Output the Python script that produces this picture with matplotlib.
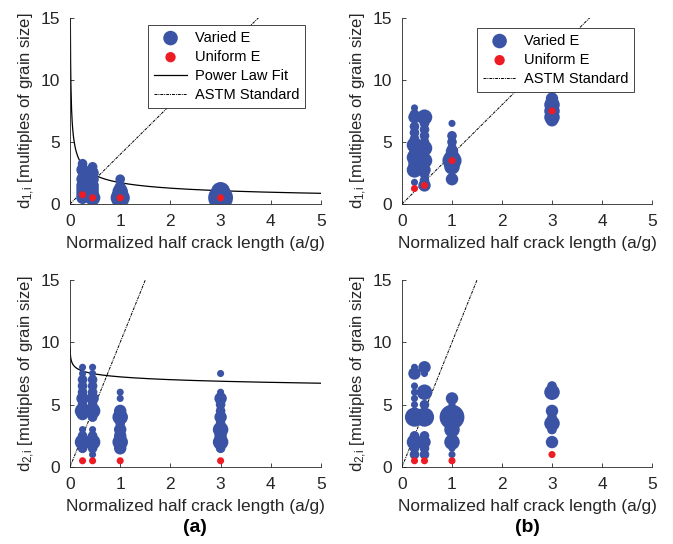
import numpy as np
import matplotlib
matplotlib.use("Agg")
import matplotlib.pyplot as plt

plt.rcParams['font.family'] = ['Liberation Sans', 'DejaVu Sans']
plt.rcParams['mathtext.fontset'] = 'custom'
plt.rcParams['mathtext.rm'] = 'Liberation Sans'
plt.rcParams['mathtext.it'] = 'Liberation Sans'

blue = '#3a53a4'
red = '#ed1c24'

# column positions (a/g)
cols = [0.25, 0.45, 1.0, 3.0]

# d1, varied E (top-left): (y values, size class) per column
d1a_y = [[0.5, 0.75, 1.0, 1.25, 1.5, 2.0, 2.25, 2.75, 3.0, 3.25],
         [0.5, 0.75, 1.0, 1.25, 1.5, 2.0, 2.5, 2.75, 3.0],
         [0.5, 0.75, 1.0, 1.25, 1.5, 2.0],
         [0.5, 0.75, 1.0]]
d1a_s = [[3, 3, 3, 3, 3, 3, 2, 3, 2, 2],
         [4, 3, 3, 3, 3, 3, 3, 2, 2],
         [5, 4, 4, 3, 2, 2],
         [6, 5, 5]]
d1a_red = [0.75, 0.5, 0.5, 0.5]

# d1, varied E (top-right)
d1b_y = [[1.75, 2.75, 3.25, 3.75, 4.0, 4.75, 5.25, 5.75, 6.25, 7.0, 7.25, 7.75],
         [1.5, 1.9, 2.4, 2.75, 3.5, 3.9, 4.5, 5.0, 5.5, 6.0, 6.5, 7.0],
         [2.0, 3.0, 3.5, 3.75, 4.0, 4.25, 4.5, 5.0, 5.5, 6.5],
         [6.75, 7.0, 7.5, 7.75, 8.0, 8.25, 8.5]]
d1b_s = [[1, 4, 3, 4, 3, 4, 2, 2, 2, 3, 2, 1],
         [3, 2, 2, 3, 4, 2, 4, 2, 2, 2, 2, 4],
         [3, 4, 5, 4, 3, 3, 2, 2, 2, 1],
         [3, 4, 4, 3, 4, 3, 3]]
d1b_red = [1.25, 1.5, 3.5, 7.5]

# d2, varied E (bottom-left)
d2a_y = [[1.5, 2.0, 2.5, 3.0, 4.25, 4.5, 5.0, 5.5, 6.0, 6.5, 7.0, 7.5, 8.0],
         [1.0, 1.5, 2.0, 2.5, 3.0, 4.0, 4.5, 5.0, 5.5, 6.0, 6.5, 7.0, 7.5, 8.0],
         [1.5, 2.0, 2.5, 3.0, 3.5, 4.0, 4.5, 5.5, 6.0],
         [1.5, 2.0, 2.5, 3.0, 3.5, 4.0, 4.5, 5.0, 5.5, 6.0, 7.5]]
d2a_s = [[2, 4, 2, 1, 3, 4, 2, 3, 2, 2, 2, 1, 1],
         [1, 2, 4, 2, 1, 2, 4, 2, 3, 2, 2, 2, 1, 1],
         [3, 4, 3, 3, 2, 4, 3, 1, 1],
         [2, 4, 3, 4, 2, 3, 2, 2, 3, 1, 1]]
d2a_red = [0.5, 0.5, 0.5, 0.5]

# d2, varied E (bottom-right)
d2b_y = [[1.0, 1.5, 2.0, 2.5, 4.0, 4.5, 5.0, 5.5, 6.0, 6.5, 7.5, 8.0],
         [1.0, 1.5, 2.0, 2.5, 4.0, 5.0, 6.0, 7.5, 8.0],
         [1.0, 1.5, 2.0, 3.0, 4.0, 5.0, 5.5],
         [2.0, 3.0, 3.5, 4.0, 4.5, 6.0, 6.5]]
d2b_s = [[2, 2, 4, 2, 5, 1, 1, 1, 1, 1, 3, 1],
         [2, 2, 3, 2, 5, 2, 4, 1, 3],
         [1, 1, 4, 4, 6, 1, 3],
         [3, 2, 4, 2, 3, 4, 2]]
d2b_red = [0.5, 0.5, 0.5, 1.0]

# power law fits
fit1_c, fit1_p = 1.72, -0.43
fit2_c, fit2_p = 7.23, -0.0454
astm_slope_d1 = 4.0
astm_slope_d2 = 10.0

size_map = {1: 26, 2: 48, 3: 80, 4: 125, 5: 190, 6: 320}

fig = plt.figure(figsize=(6.73, 5.44), dpi=100)
W, H = 673.0, 544.0


def make_ax(x0, y0, x1, y1):
    return fig.add_axes([x0 / W, 1 - y1 / H, (x1 - x0) / W, (y1 - y0) / H])


def style(ax, ylab):
    ax.set_xlim(0, 5)
    ax.set_ylim(0, 15)
    ax.set_xticks([0, 1, 2, 3, 4, 5])
    ax.set_yticks([0, 5, 10, 15])
    for s in ['top', 'right']:
        ax.spines[s].set_visible(False)
    for s in ['left', 'bottom']:
        ax.spines[s].set_color('#262626')
        ax.spines[s].set_linewidth(0.6)
    ax.tick_params(direction='in', length=3, width=0.6, labelsize=12.5,
                   colors='#262626', pad=7)
    ax.set_xlabel('Normalized half crack length (a/g)', fontsize=12.4,
                  labelpad=5, color='#262626')
    ax.set_ylabel(ylab, fontsize=12, labelpad=3, color='#262626')


def draw(ax, ys, ss, reds):
    for i, x in enumerate(cols):
        sz = [size_map[k] for k in ss[i]]
        ax.scatter([x] * len(ys[i]), ys[i], s=sz, c=blue, edgecolors='none',
                   zorder=3, label='Varied E' if i == 0 else None)
    ax.scatter(cols, reds, s=26, c=red, edgecolors='none', zorder=4,
               label='Uniform E')


ax1 = make_ax(70, 18, 321, 204)
ax2 = make_ax(402, 18, 652, 204)
ax3 = make_ax(70, 280, 321, 467)
ax4 = make_ax(402, 280, 652, 467)

xf = np.linspace(0.0062, 5, 800)
xf2 = np.linspace(0.002, 5, 800)
xa = np.array([0, 5])
dd = (3, 1, 1, 1)

draw(ax1, d1a_y, d1a_s, d1a_red)
ax1.plot(xf, fit1_c * xf ** fit1_p, color='k', lw=0.9, label='Power Law Fit')
ax1.plot(xa, astm_slope_d1 * xa, color='k', lw=0.7, dashes=dd,
         label='ASTM Standard')

draw(ax2, d1b_y, d1b_s, d1b_red)
ax2.plot(xa, astm_slope_d1 * xa, color='k', lw=0.7, dashes=dd,
         label='ASTM Standard')

draw(ax3, d2a_y, d2a_s, d2a_red)
ax3.plot(xf2, fit2_c * xf2 ** fit2_p, color='k', lw=0.9)
ax3.plot(xa, astm_slope_d2 * xa, color='k', lw=0.7, dashes=dd)

draw(ax4, d2b_y, d2b_s, d2b_red)
ax4.plot(xa, astm_slope_d2 * xa, color='k', lw=0.7, dashes=dd)

style(ax1, r'd$_{\mathregular{1{,}i}}$ [multiples of grain size]')
style(ax2, r'd$_{\mathregular{1{,}i}}$ [multiples of grain size]')
style(ax3, r'd$_{\mathregular{2{,}i}}$ [multiples of grain size]')
style(ax4, r'd$_{\mathregular{2{,}i}}$ [multiples of grain size]')

for ax, anchor in [(ax1, (0.936, 0.962)), (ax2, (0.928, 0.946))]:
    leg = ax.legend(loc='upper right', bbox_to_anchor=anchor, fontsize=10.5,
                    frameon=True, fancybox=False, borderpad=0.4,
                    labelspacing=0.35, handlelength=2.3, handletextpad=0.5,
                    borderaxespad=0, framealpha=1)
    leg.get_frame().set_edgecolor('#262626')
    leg.get_frame().set_linewidth(0.6)
    leg.legend_handles[0].set_sizes([110])
    leg.legend_handles[1].set_sizes([55])

fig.text(195 / W, 1 - 528 / H, '(a)', fontsize=14, fontweight='bold',
         ha='center', va='center')
fig.text(527 / W, 1 - 528 / H, '(b)', fontsize=14, fontweight='bold',
         ha='center', va='center')

fig.savefig('out.png', dpi=100)
